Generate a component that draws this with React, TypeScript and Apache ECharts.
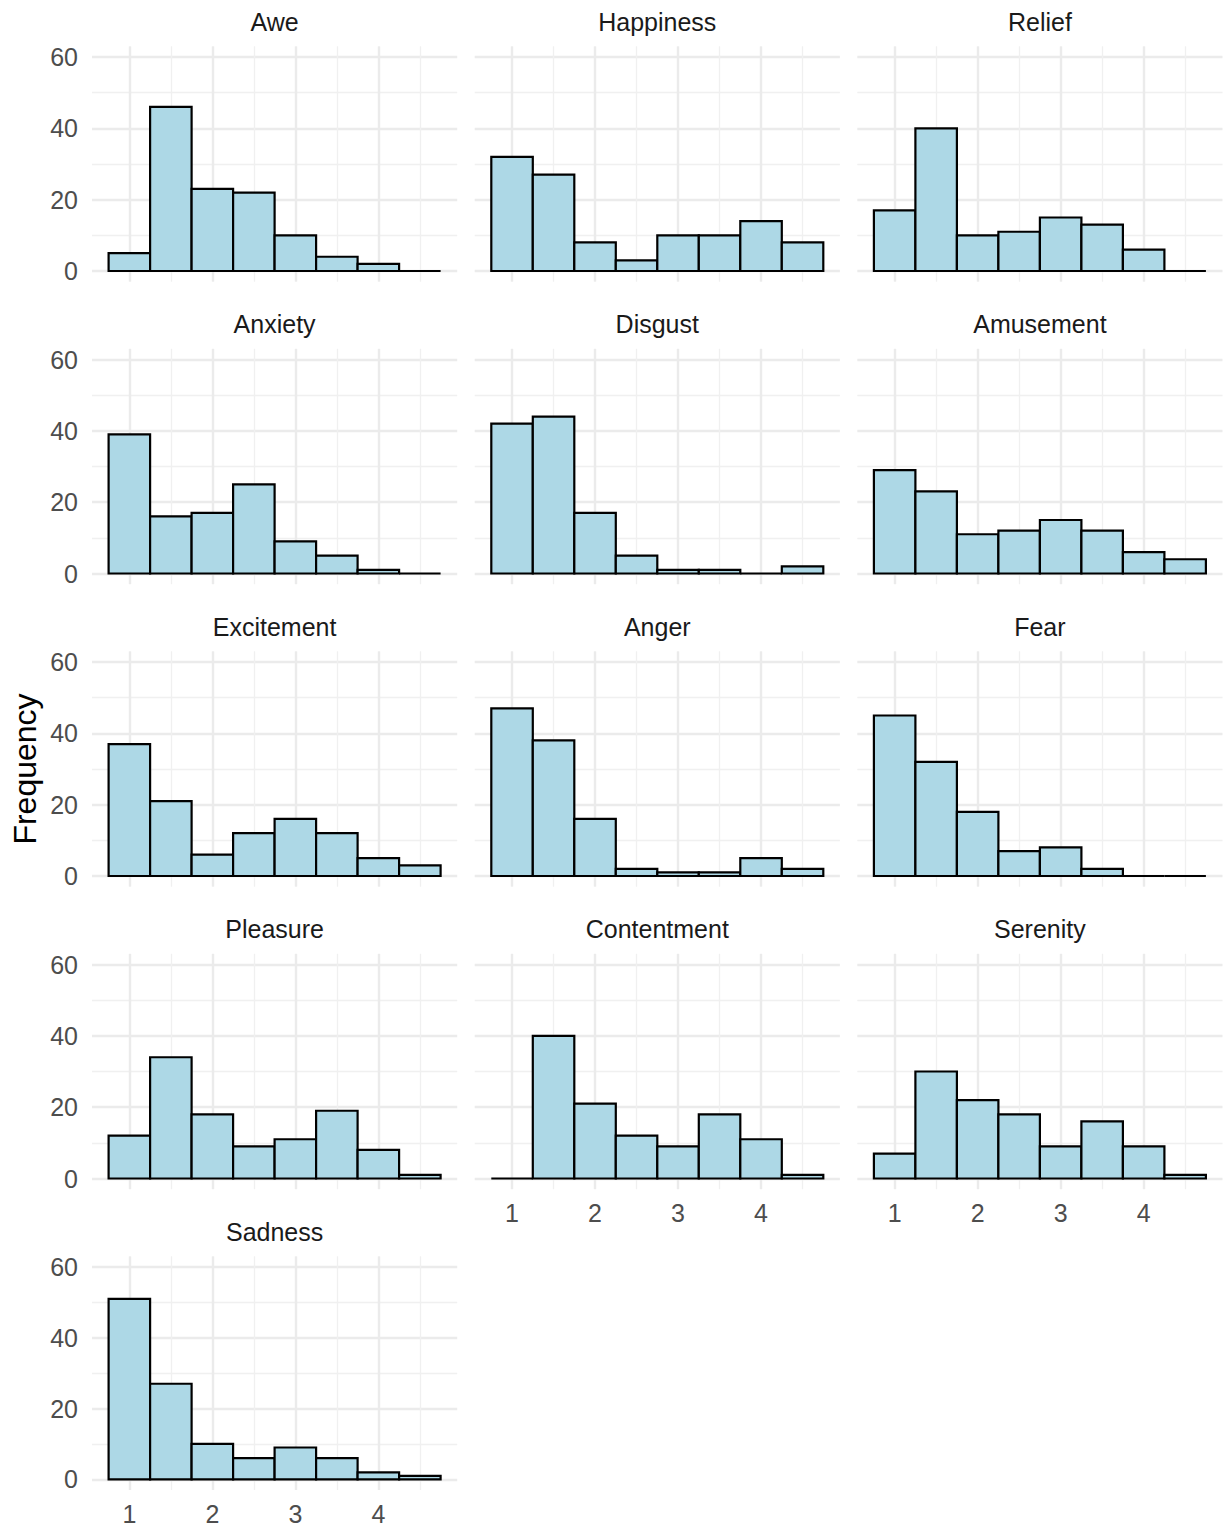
import React, { useEffect, useRef } from "react";
import * as echarts from "echarts";

// ---- data ----
const emotions = [
  "Awe", "Happiness", "Relief",
  "Anxiety", "Disgust", "Amusement",
  "Excitement", "Anger", "Fear",
  "Pleasure", "Contentment", "Serenity",
  "Sadness",
];
const binCenters = [1, 1.5, 2, 2.5, 3, 3.5, 4, 4.5];
const binWidth = 0.5;
const awe = [5, 46, 23, 22, 10, 4, 2, 0];
const happiness = [32, 27, 8, 3, 10, 10, 14, 8];
const relief = [17, 40, 10, 11, 15, 13, 6, 0];
const anxiety = [39, 16, 17, 25, 9, 5, 1, 0];
const disgust = [42, 44, 17, 5, 1, 1, 0, 2];
const amusement = [29, 23, 11, 12, 15, 12, 6, 4];
const excitement = [37, 21, 6, 12, 16, 12, 5, 3];
const anger = [47, 38, 16, 2, 1, 1, 5, 2];
const fear = [45, 32, 18, 7, 8, 2, 0, 0];
const pleasure = [12, 34, 18, 9, 11, 19, 8, 1];
const contentment = [0, 40, 21, 12, 9, 18, 11, 1];
const serenity = [7, 30, 22, 18, 9, 16, 9, 1];
const sadness = [51, 27, 10, 6, 9, 6, 2, 1];
const counts = [
  awe, happiness, relief,
  anxiety, disgust, amusement,
  excitement, anger, fear,
  pleasure, contentment, serenity,
  sadness,
];
const yMajorTicks = [0, 20, 40, 60];
const yMinorTicks = [10, 30, 50];
const xMajorTicks = [1, 2, 3, 4];
const xMinorTicks = [1.5, 2.5, 3.5, 4.5];
const yTitle = "Frequency";

// ---- layout ----
const W = 1227;
const H = 1526;
const COL_LEFT = [92, 474.7, 857.3];
const PANEL_W = 365.2;
const ROW_TOP0 = 46.3;
const ROW_STEP = 302.5;
const PANEL_H = 235.4;
const X_MIN = 0.55, X_MAX = 4.95;
const Y_MIN = -3, Y_MAX = 63;
const FONT = "'Liberation Sans', Arial, sans-serif";
const GRID_COLOR = "#EBEBEB";

export default function App() {
  const ref = useRef<HTMLDivElement>(null);

  useEffect(() => {
    if (!ref.current) return;
    const chart = echarts.init(ref.current, null, { renderer: "svg", width: W, height: H });

    const grids: any[] = [];
    const xAxes: any[] = [];
    const yAxes: any[] = [];
    const series: any[] = [];
    const graphics: any[] = [];
    const nCols = 3;
    const nPanels = emotions.length;

    emotions.forEach((name, i) => {
      const col = i % nCols;
      const row = Math.floor(i / nCols);
      const left = COL_LEFT[col];
      const top = ROW_TOP0 + ROW_STEP * row;
      const showY = col === 0;
      const showX = i + nCols >= nPanels;
      grids.push({ left, top, width: PANEL_W, height: PANEL_H, containLabel: false });

      const xBase = {
        type: "value", gridIndex: i, min: X_MIN, max: X_MAX,
        axisLine: { show: false, onZero: false }, axisTick: { show: false },
      };
      const yBase = {
        type: "value", gridIndex: i, min: Y_MIN, max: Y_MAX,
        axisLine: { show: false, onZero: false }, axisTick: { show: false },
      };
      // minor (index 2i)
      xAxes.push({
        ...xBase, position: "top",
        axisTick: { show: false, customValues: xMinorTicks },
        axisLabel: { show: false, customValues: xMinorTicks },
        splitLine: { show: true, lineStyle: { color: "#F0F0F0", width: 1.3 } },
      });
      yAxes.push({
        ...yBase, position: "right",
        axisTick: { show: false, customValues: yMinorTicks },
        axisLabel: { show: false, customValues: yMinorTicks },
        splitLine: { show: true, lineStyle: { color: "#F0F0F0", width: 1.3 } },
      });
      // major (index 2i+1)
      xAxes.push({
        ...xBase, position: "bottom",
        axisTick: { show: false, customValues: xMajorTicks },
        axisLabel: {
          show: showX, customValues: xMajorTicks, margin: 11,
          color: "#4D4D4D", fontSize: 25, fontFamily: FONT,
        },
        splitLine: { show: true, lineStyle: { color: GRID_COLOR, width: 2.4 } },
      });
      yAxes.push({
        ...yBase, position: "left",
        axisTick: { show: false, customValues: yMajorTicks },
        axisLabel: {
          show: showY, customValues: yMajorTicks, margin: 14,
          color: "#4D4D4D", fontSize: 25, fontFamily: FONT,
        },
        splitLine: { show: true, lineStyle: { color: GRID_COLOR, width: 2.4 } },
      });

      series.push({
        type: "custom",
        name,
        xAxisIndex: 2 * i + 1,
        yAxisIndex: 2 * i + 1,
        clip: false,
        z: 5,
        data: binCenters.map((c, k) => [c, counts[i][k]]),
        renderItem: (params: any, api: any) => {
          const x = api.value(0);
          const c = api.value(1);
          const p0 = api.coord([x - binWidth / 2, c]);
          const p1 = api.coord([x + binWidth / 2, 0]);
          return {
            type: "rect",
            shape: { x: p0[0], y: p0[1], width: p1[0] - p0[0], height: p1[1] - p0[1] },
            style: { fill: "#ADD8E6", stroke: "#000000", lineWidth: 2.2 },
          };
        },
      });

      graphics.push({
        type: "text",
        x: left + PANEL_W / 2,
        y: top - 24.5,
        style: {
          text: name, fill: "#1A1A1A", font: `25px ${FONT}`,
          textAlign: "center", textVerticalAlign: "middle",
        },
      });
    });

    const lastTop = ROW_TOP0 + ROW_STEP * 4 + PANEL_H;
    graphics.push({
      type: "text",
      x: 25,
      y: (ROW_TOP0 + lastTop) / 2,
      rotation: Math.PI / 2,
      style: {
        text: yTitle, fill: "#000000", font: `32px ${FONT}`,
        textAlign: "center", textVerticalAlign: "middle",
      },
    });

    chart.setOption({
      animation: false,
      backgroundColor: "#FFFFFF",
      textStyle: { fontFamily: FONT },
      grid: grids,
      xAxis: xAxes,
      yAxis: yAxes,
      series,
      graphic: graphics,
    });

    return () => chart.dispose();
  }, []);

  return (
    <div
      ref={ref}
      style={{ position: "absolute", left: 0, top: 0, width: W, height: H, background: "#fff" }}
    />
  );
}
